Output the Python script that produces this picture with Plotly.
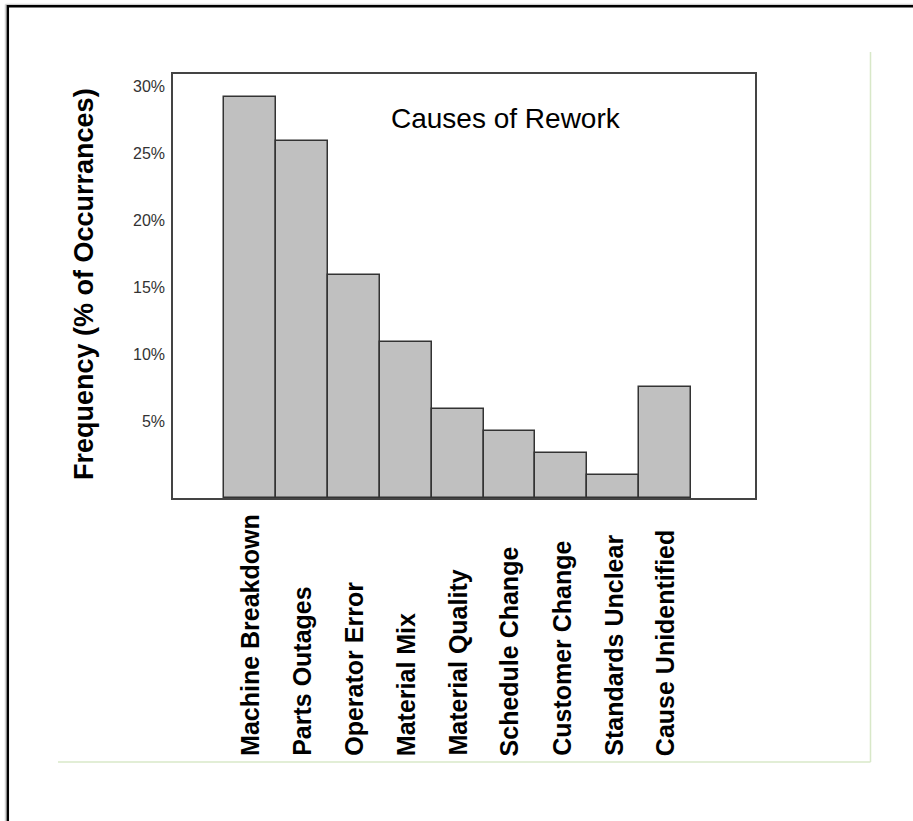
import plotly.graph_objects as go

# ---- data ----
categories = ["Machine Breakdown", "Parts Outages", "Operator Error", "Material Mix",
              "Material Quality", "Schedule Change", "Customer Change",
              "Standards Unclear", "Cause Unidentified"]
frequency_pct = [30.0, 26.7, 16.7, 11.65, 6.65, 5.0, 3.35, 1.7, 8.3]
y_tick_vals = [5, 10, 15, 20, 25, 30]
y_tick_text = ["5%", "10%", "15%", "20%", "25%", "30%"]
chart_title = "Causes of Rework"
y_title = "Frequency (% of Occurrances)"

# ---- layout geometry (pixels) ----
W, H = 913, 821
L, R, T, B = 173, 755, 74, 498
PW, PH = R - L, B - T

def px(x):
    return (x - L) / PW

def py(y):
    return (B - y) / PH

FONT = "Liberation Sans, Arial, sans-serif"

fig = go.Figure()
fig.add_trace(go.Bar(
    x=categories, y=frequency_pct,
    marker=dict(color="#c0c0c0", line=dict(color="#333333", width=1.5)),
    width=1.0, showlegend=False, hoverinfo="x+y",
))

annotations = []
for c in categories:
    annotations.append(dict(
        x=c, xref="x", y=py(757), yref="paper",
        text=c, showarrow=False, textangle=-90,
        xanchor="center", yanchor="bottom",
        font=dict(family=FONT, size=25, color="black", weight="bold"),
        borderpad=0,
    ))
annotations.append(dict(
    x=px(505.5), y=py(118), xref="paper", yref="paper",
    text=chart_title, showarrow=False, xanchor="center", yanchor="middle",
    font=dict(family=FONT, size=28, color="black"),
))
annotations.append(dict(
    x=px(84), y=py(284), xref="paper", yref="paper",
    text=y_title, showarrow=False, textangle=-90,
    xanchor="center", yanchor="middle",
    font=dict(family=FONT, size=27, color="black", weight="bold"),
))

shapes = [
    # outer frame (top and left visible)
    dict(type="line", xref="paper", yref="paper", x0=px(5.5), x1=px(W + 5), y0=py(4.5), y1=py(4.5),
         line=dict(color="#d0d0d0", width=1.5)),
    dict(type="line", xref="paper", yref="paper", x0=px(5.5), x1=px(5.5), y0=py(4.5), y1=py(H + 5),
         line=dict(color="#d0d0d0", width=1.5)),
    dict(type="line", xref="paper", yref="paper", x0=px(7), x1=px(W + 5), y0=py(6.3), y1=py(6.3),
         line=dict(color="black", width=2.5)),
    dict(type="line", xref="paper", yref="paper", x0=px(7.8), x1=px(7.8), y0=py(5), y1=py(H + 5),
         line=dict(color="black", width=2.5)),
    # light green inner frame lines
    dict(type="line", xref="paper", yref="paper", x0=px(870.5), x1=px(870.5), y0=py(52), y1=py(762),
         line=dict(color="#d8e8c8", width=1.5)),
    dict(type="line", xref="paper", yref="paper", x0=px(58), x1=px(870.5), y0=py(762), y1=py(762),
         line=dict(color="#d8e8c8", width=1.5)),
]

x_lo = -0.5 - (224 - L) / 51.9
x_hi = x_lo + PW / 51.9

fig.update_layout(
    width=W, height=H,
    margin=dict(l=L, r=W - R, t=T, b=H - B, pad=0),
    paper_bgcolor="white", plot_bgcolor="white",
    bargap=0,
    annotations=annotations,
    shapes=shapes,
    xaxis=dict(
        type="category", range=[x_lo, x_hi],
        showline=True, linecolor="#444444", linewidth=1.5, mirror=True,
        showticklabels=False, ticks="", showgrid=False, zeroline=False,
    ),
    yaxis=dict(
        range=[0, PH / 13.38],
        showline=True, linecolor="#444444", linewidth=1.5, mirror=True,
        tickvals=y_tick_vals, ticktext=y_tick_text, ticks="",
        ticklabelshift=-10, ticklabelstandoff=3,
        tickfont=dict(family=FONT, size=16, color="#333333"),
        showgrid=False, zeroline=False,
    ),
)

fig.write_html(
    "out.html",
    config={"displayModeBar": False},
    post_script="document.body.style.margin='0';document.body.style.overflow='hidden';",
)
